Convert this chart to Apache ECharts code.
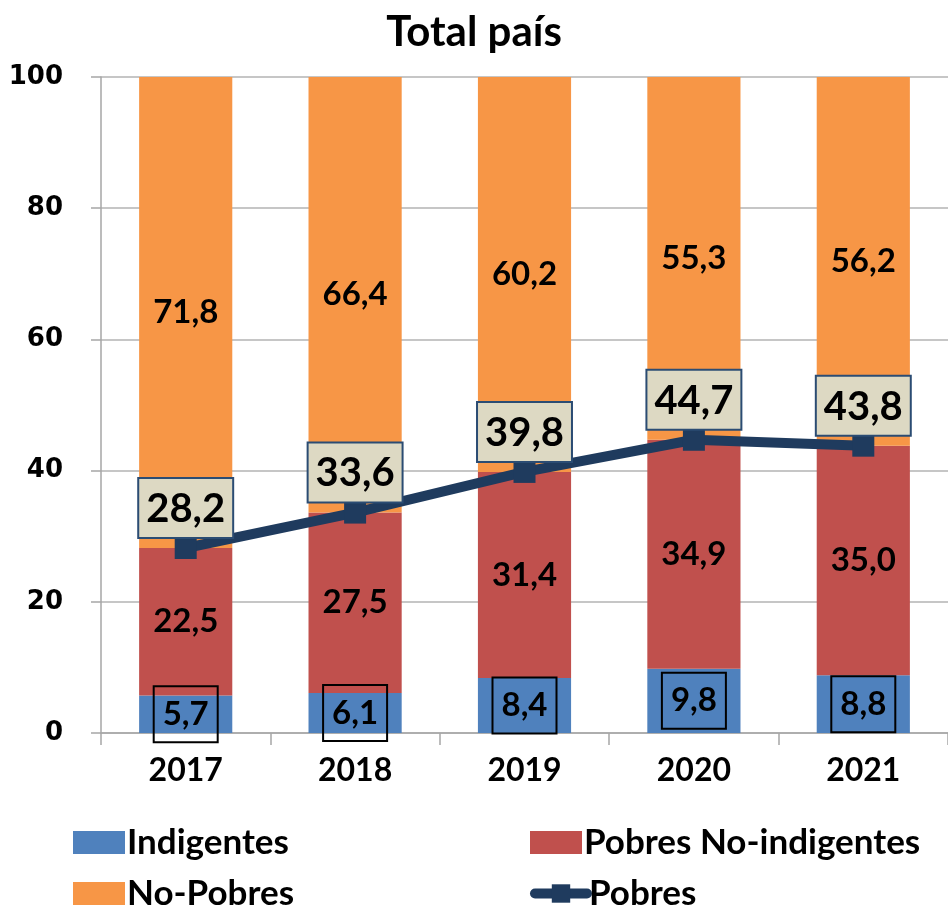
<!DOCTYPE html>
<html lang="es">
<head>
    <meta charset="UTF-8">
    <title>Total país</title>
    <script src="https://cdn.jsdelivr.net/npm/echarts@6/dist/echarts.min.js"></script>
    <style>
        body { margin: 0; background: #fff; }
        #chart { width: 948px; height: 907px; }
    </style>
</head>
<body>
    <div id="chart"></div>
    <script>
        // datos
        let years = ['2017', '2018', '2019', '2020', '2021'];
        let indigentes = [5.7, 6.1, 8.4, 9.8, 8.8];
        let pobresNoInd = [22.5, 27.5, 31.4, 34.9, 35.0];
        let noPobres = [71.8, 66.4, 60.2, 55.3, 56.2];
        let pobres = [28.2, 33.6, 39.8, 44.7, 43.8];
        let yTicks = [0, 20, 40, 60, 80, 100];

        let font = 'Lato';
        let fmt = p => p.value.toFixed(1).replace('.', ',');

        let chart = echarts.init(document.querySelector('#chart'));
        let barLabel = {
            show: true,
            position: 'inside',
            color: '#000',
            fontFamily: font,
            fontWeight: 'bold',
            fontSize: 33,
            formatter: fmt
        };
        // una leyenda por entrada, para ponerlas en dos columnas
        let legendAt = (name, left, top, icon) => ({
            left: left,
            top: top,
            icon: icon,
            itemGap: 0,
            itemWidth: 52,
            itemHeight: 23,
            lineStyle: { width: 10, cap: 'round' },
            textStyle: { fontFamily: font, fontWeight: 'bold', fontSize: 35, color: '#000', padding: [0, 0, 0, -3] },
            data: [name]
        });
        let option = {
            animation: false,
            title: {
                text: 'Total país',
                left: 'center',
                top: 6,
                textStyle: { fontFamily: font, fontWeight: 'bold', fontSize: 42, color: '#000' }
            },
            legend: [
                legendAt('Indigentes', 68, 820, 'rect'),
                legendAt('No-Pobres', 68, 871, 'rect'),
                legendAt('Pobres No-indigentes', 525, 820, 'rect'),
                legendAt('Pobres', 525, 871)
            ],
            grid: { left: 101, top: 77, width: 848, height: 656 },
            xAxis: {
                type: 'category',
                data: years,
                axisLine: { lineStyle: { color: '#a6a6a6', width: 1.5 } },
                axisTick: { show: true, length: 12, lineStyle: { color: '#a6a6a6', width: 1.5 } },
                axisLabel: { margin: 22, color: '#000', fontFamily: font, fontWeight: 'bold', fontSize: 32 }
            },
            yAxis: {
                type: 'value',
                min: yTicks[0],
                max: yTicks[yTicks.length - 1],
                interval: 20,
                axisLine: { show: true, lineStyle: { color: '#a6a6a6', width: 1.5 } },
                axisTick: { show: true, length: 10, lineStyle: { color: '#a6a6a6', width: 1.5 } },
                splitLine: { lineStyle: { color: '#b3b3b3', width: 1.5 } },
                axisLabel: { margin: 38, color: '#000', fontFamily: 'DejaVu Sans', fontWeight: 'bold', fontSize: 26 }
            },
            series: [{
                name: 'Indigentes',
                type: 'bar',
                stack: 'total',
                barWidth: '55%',
                itemStyle: { color: '#4f81bd' },
                label: Object.assign({}, barLabel, {
                    borderColor: '#000', borderWidth: 2,
                    width: 50, height: 44, align: 'center', verticalAlign: 'middle',
                    padding: [6, 7]
                }),
                data: indigentes
            }, {
                name: 'Pobres No-indigentes',
                type: 'bar',
                stack: 'total',
                itemStyle: { color: '#c0504d' },
                label: barLabel,
                data: pobresNoInd
            }, {
                name: 'No-Pobres',
                type: 'bar',
                stack: 'total',
                itemStyle: { color: '#f79646' },
                label: barLabel,
                data: noPobres
            }, {
                name: 'Pobres',
                type: 'line',
                z: 5,
                symbol: 'rect',
                symbolSize: 22,
                lineStyle: { color: '#1f3b5e', width: 10 },
                itemStyle: { color: '#1f3b5e' },
                label: {
                    show: true,
                    position: 'top',
                    distance: 0,
                    color: '#000',
                    fontFamily: font,
                    fontWeight: 'bold',
                    fontSize: 40,
                    lineHeight: 42,
                    backgroundColor: '#ddd9c3',
                    borderColor: '#2b4c73',
                    borderWidth: 2,
                    padding: [9, 7, 7, 7],
                    formatter: fmt
                },
                data: pobres
            }]
        };
        chart.setOption(option);
    </script>
</body>
</html>
